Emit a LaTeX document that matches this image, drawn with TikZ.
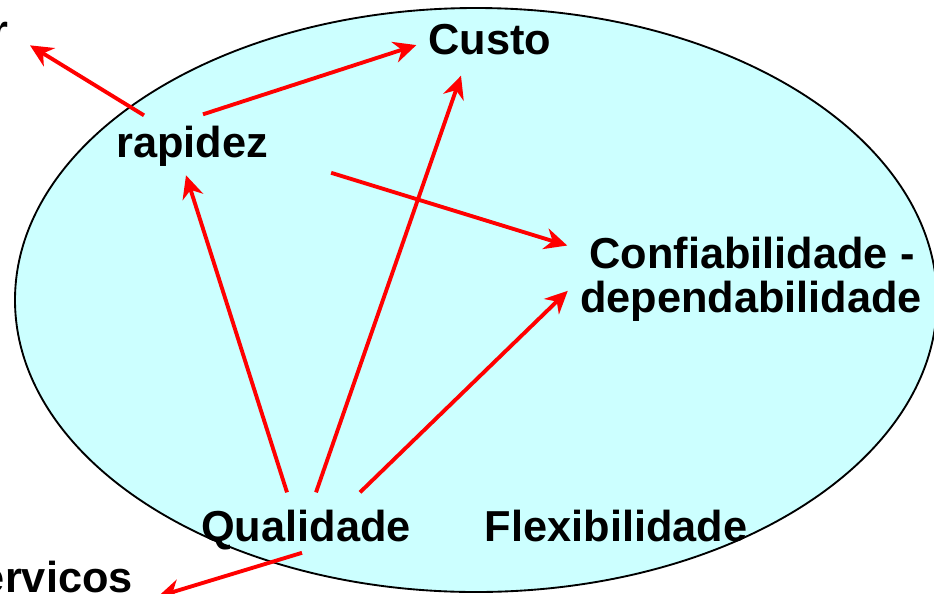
\documentclass[tikz,border=0pt]{standalone}
\usepackage{fontspec}
\setmainfont{Liberation Sans}
\usetikzlibrary{arrows.meta}
\usetikzlibrary{calc}

\tikzset{
  lbl/.style={font=\fontsize{32.5}{34}\selectfont\bfseries, inner sep=0pt},
  redarr/.style={draw={rgb, 255:red, 255; green, 0; blue, 0}, line width=2.9pt, -{Stealth[length=17pt,width=16pt,inset=5.5pt]}}
}

\begin{document}
\begin{tikzpicture}[x=0.75pt,y=0.75pt,yscale=-1,xscale=1]
\useasboundingbox (0,0) rectangle (934,593);

%Shape: Ellipse
\draw [line width=1.4pt, fill={rgb, 255:red, 204; green, 255; blue, 255}] (476,300) ellipse (461 and 292);

% Text Node
\node [lbl, anchor=base] (custo) at (490,54) {Custo};
% Text Node
\node [lbl, anchor=base] (rap) at (192,157) {rapidez};
% Text Node
\node [lbl, anchor=base] (conf) at (752,268) {Confiabilidade -};
% Text Node
\node [lbl, anchor=base] (dep) at (751,312) {dependabilidade};
% Text Node
\node [lbl, anchor=base] (qual) at (306,541) {Qualidade};
% Text Node
\node [lbl, anchor=base] (flex) at (616,541) {Flexibilidade};
% Text Node
\node [lbl, anchor=base east] (melh) at (9,45) {r};
% Text Node
\node [lbl, anchor=base east] (serv) at (133,592) {ervicos};

%Straight Lines
\draw [redarr] ($(rap.north)+(-48,-10)$) -- ($(melh.east)+(21,12)$);
\draw [redarr] ($(rap.north)+(11,-11)$) -- ($(custo.west)+(-12,6)$);
\draw [redarr] ($(rap.east)+(63,27)$) -- ($(conf.west)+(-22,-7)$);
%Straight Lines
\draw [redarr] ($(qual.north)+(-19,-17)$) -- ($(rap.south)+(-6,9)$);
\draw [redarr] ($(qual.north)+(10,-17)$) -- ($(custo.south)+(-29,21)$);
\draw [redarr] ($(qual.north)+(54,-17)$) -- ($(dep.west)+(-12,-10)$);
\draw [redarr] ($(qual.south)+(-4,3)$) -- ($(serv.east)+(25,20)$);

\end{tikzpicture}
\end{document}
